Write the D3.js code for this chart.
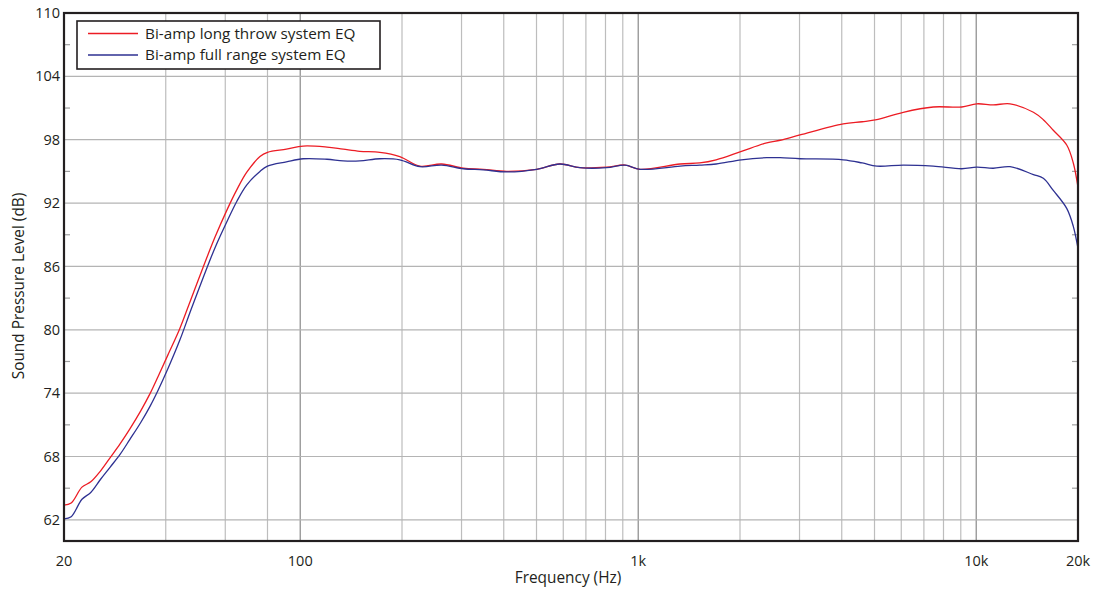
<!DOCTYPE html>
<html>
<head>
<meta charset="utf-8">
<script src="https://cdn.jsdelivr.net/npm/d3@7"></script>
<style>
  body { margin: 0; background: #fff; }
  svg text { font-family: "Open Sans", "DejaVu Sans", sans-serif; fill: #231f20; }
</style>
</head>
<body>
<div id="chart"></div>
<script>
// frequencies (Hz) shared by both measured curves
const freqs = [20, 21, 22.6, 24, 25.6, 27.4, 29.3, 31.3, 33.7, 36, 38, 40.7, 44, 47.5, 51.7, 56, 61, 65, 69.4, 76, 80, 91,
  102, 120, 134, 150, 172, 197, 226, 262, 304, 348, 408, 501, 586, 672, 806, 914, 1012, 1330, 1520, 1700,
  2020, 2400, 2630, 3010, 4040, 4600, 5080, 6080, 7460, 9060, 10030, 11230, 12590, 14760, 15790, 16900,
  18520, 19370, 20000];

const longThrow = [63.4, 63.6, 65.1, 65.6, 66.6, 67.9, 69.2, 70.6, 72.3, 74.0, 75.6, 77.7, 80.1, 82.9, 86.0, 88.8, 91.5, 93.3, 94.9, 96.4, 96.8, 97.1,
  97.4, 97.3, 97.1, 96.9, 96.8, 96.4, 95.5, 95.7, 95.3, 95.2, 95.0, 95.2, 95.7, 95.35, 95.4, 95.6, 95.2, 95.7, 95.8, 96.1,
  96.9, 97.7, 97.95, 98.45, 99.5, 99.7, 99.9, 100.6, 101.1, 101.1, 101.4, 101.3, 101.4, 100.6, 99.9, 98.9,
  97.5, 95.8, 93.5];

const fullRange = [62.1, 62.3, 63.95, 64.6, 65.8, 67.0, 68.2, 69.6, 71.2, 72.8, 74.3, 76.4, 79.0, 81.9, 85.0, 87.8, 90.4, 92.2, 93.7, 95.0, 95.5, 95.9,
  96.2, 96.15, 96.0, 96.0, 96.2, 96.1, 95.45, 95.6, 95.25, 95.15, 94.95, 95.2, 95.7, 95.35, 95.35, 95.6, 95.2, 95.5, 95.6, 95.7,
  96.1, 96.3, 96.3, 96.2, 96.1, 95.8, 95.5, 95.6, 95.5, 95.25, 95.4, 95.3, 95.45, 94.7, 94.35, 93.2,
  91.5, 89.8, 87.7];

const seriesNames = ["Bi-amp long throw system EQ", "Bi-amp full range system EQ"];
const seriesColors = ["#ec1c24", "#2e3192"];

const yMajor = [62, 68, 74, 80, 86, 92, 98, 104, 110];
const yMinor = [65, 71, 77, 83, 89, 95, 101, 107];
const xGrid = [40, 60, 80, 100, 200, 300, 400, 500, 600, 700, 800, 900, 1000,
  2000, 3000, 4000, 5000, 6000, 7000, 8000, 9000, 10000];
const xDecades = [100, 1000, 10000];
const xLabels = [[20, "20"], [100, "100"], [1000, "1k"], [10000, "10k"], [20000, "20k"]];

const W = 1096, H = 591;
const margin = {top: 13, right: 18, bottom: 50, left: 64};
const width = W - margin.left - margin.right;
const height = H - margin.top - margin.bottom;

const svg = d3.select("#chart").append("svg")
  .attr("width", W)
  .attr("height", H);

const g = svg.append("g")
  .attr("transform", "translate(" + margin.left + "," + margin.top + ")");

const x = d3.scaleLog().domain([20, 20000]).range([0, width]);
const y = d3.scaleLinear().domain([60, 110]).range([height, 0]);

// grid
g.selectAll(".vgrid").data(xGrid).enter().append("line")
  .attr("x1", d => x(d)).attr("x2", d => x(d))
  .attr("y1", 0).attr("y2", height)
  .attr("stroke", d => xDecades.includes(d) ? "#9a9a9a" : "#bdbdbd")
  .attr("stroke-width", d => xDecades.includes(d) ? 1.4 : 1.2);

g.selectAll(".hgrid").data(yMajor.filter(d => d < 110)).enter().append("line")
  .attr("x1", 0).attr("x2", width)
  .attr("y1", d => y(d)).attr("y2", d => y(d))
  .attr("stroke", "#b4b4b4")
  .attr("stroke-width", 1.2);

// inner minor ticks on left and right
[0, width].forEach((x0, i) => {
  const dir = i === 0 ? 1 : -1;
  g.selectAll(".mt" + i).data(yMinor).enter().append("line")
    .attr("x1", x0).attr("x2", x0 + dir * 6)
    .attr("y1", d => y(d)).attr("y2", d => y(d))
    .attr("stroke", "#a0a0a0").attr("stroke-width", 1.2);
});

// curves
const line = d3.line()
  .x((d, i) => x(freqs[i]))
  .y(d => y(d))
  .curve(d3.curveCatmullRom.alpha(0.5));

[longThrow, fullRange].forEach((vals, i) => {
  g.append("path")
    .datum(vals)
    .attr("fill", "none")
    .attr("stroke", seriesColors[i])
    .attr("stroke-width", 1.3)
    .attr("d", line);
});

// frame
g.append("rect")
  .attr("x", 0).attr("y", 0)
  .attr("width", width).attr("height", height)
  .attr("fill", "none")
  .attr("stroke", "#231f20")
  .attr("stroke-width", 2.2);

// y tick labels
g.selectAll(".ylab").data(yMajor).enter().append("text")
  .attr("x", -4)
  .attr("y", d => y(d))
  .attr("dy", "0.35em")
  .attr("text-anchor", "end")
  .attr("font-size", 14.5)
  .text(d => d);

// x tick labels
g.selectAll(".xlab").data(xLabels).enter().append("text")
  .attr("x", d => x(d[0]))
  .attr("y", height + 25)
  .attr("text-anchor", "middle")
  .attr("font-size", 14.5)
  .text(d => d[1]);

// axis titles
svg.append("text")
  .attr("x", 568)
  .attr("y", 583)
  .attr("text-anchor", "middle")
  .attr("font-size", 15.4)
  .text("Frequency (Hz)");

svg.append("text")
  .attr("transform", "translate(24,286) rotate(-90)")
  .attr("text-anchor", "middle")
  .attr("font-size", 15.4)
  .text("Sound Pressure Level (dB)");

// legend
const legend = svg.append("g").attr("transform", "translate(77,21)");
legend.append("rect")
  .attr("width", 303).attr("height", 48)
  .attr("fill", "#fff")
  .attr("stroke", "#231f20")
  .attr("stroke-width", 1.6);

seriesNames.forEach((name, i) => {
  const ly = 12.5 + i * 21.5;
  legend.append("line")
    .attr("x1", 11).attr("x2", 61)
    .attr("y1", ly).attr("y2", ly)
    .attr("stroke", seriesColors[i])
    .attr("stroke-width", 1.3);
  legend.append("text")
    .attr("x", 68).attr("y", ly)
    .attr("dy", "0.35em")
    .attr("font-size", 15.3)
    .text(name);
});
</script>
</body>
</html>
